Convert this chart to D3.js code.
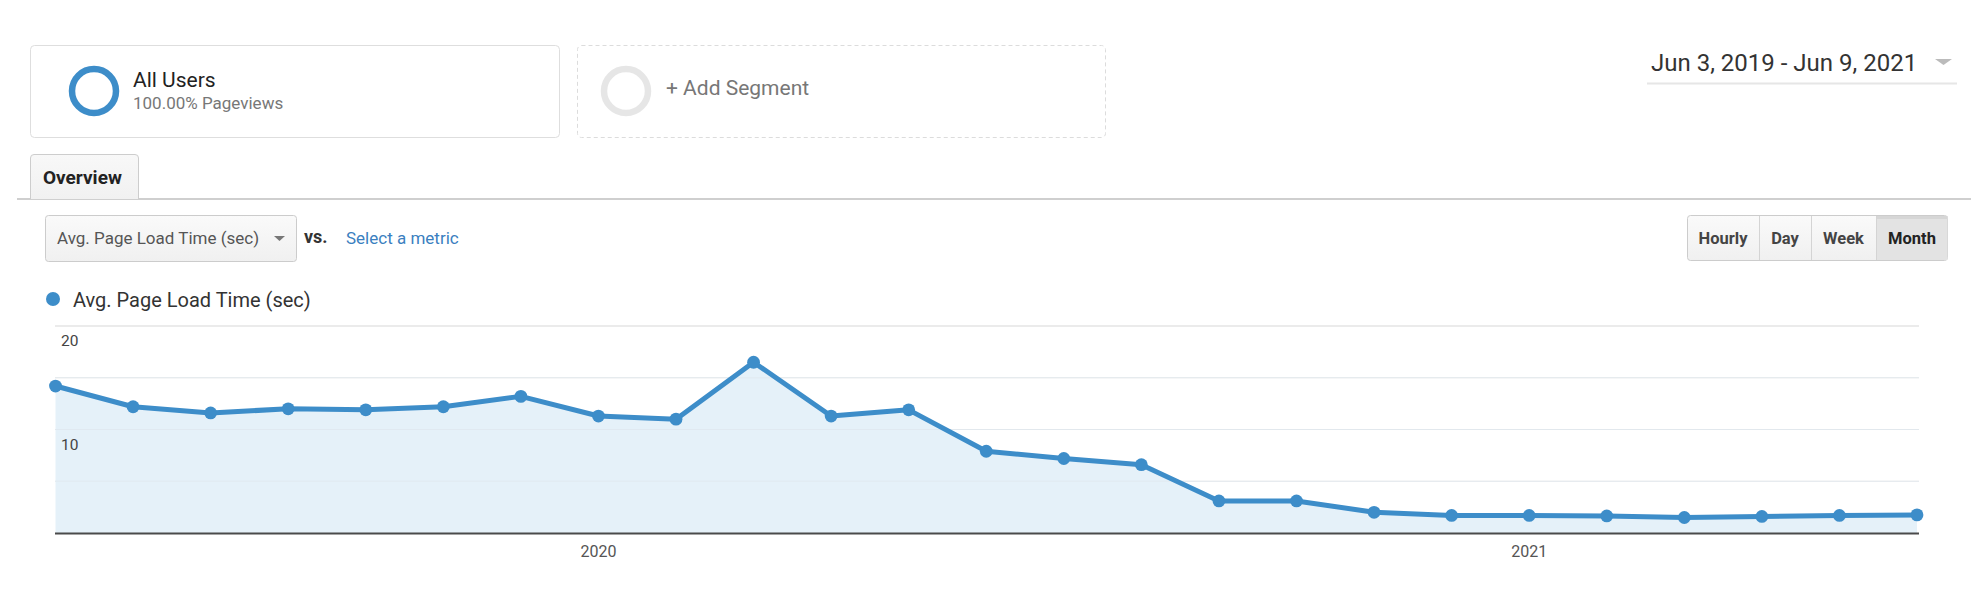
<!DOCTYPE html>
<html>
<head>
<meta charset="utf-8">
<script src="https://cdn.jsdelivr.net/npm/d3@7"></script>
<style>
  html, body { margin: 0; padding: 0; background: #fff; }
  svg { display: block; font-family: Roboto, "Open Sans", sans-serif; }
</style>
</head>
<body>
<svg id="chart" width="1984" height="604"></svg>
<script>
// ---- data ----
const months = ["2019-06","2019-07","2019-08","2019-09","2019-10","2019-11","2019-12",
  "2020-01","2020-02","2020-03","2020-04","2020-05","2020-06","2020-07","2020-08",
  "2020-09","2020-10","2020-11","2020-12","2021-01","2021-02","2021-03","2021-04",
  "2021-05","2021-06"];
const loadTime = [14.2, 12.2, 11.6, 12.0, 11.9, 12.2, 13.2, 11.3, 11.0, 16.5, 11.3, 11.9,
  7.9, 7.2, 6.6, 3.1, 3.1, 2.0, 1.7, 1.7, 1.65, 1.5, 1.6, 1.7, 1.75];
const gridValues = [0, 5, 10, 15, 20];
const yLabelValues = [10, 20];
const xLabelMonths = ["2020-01", "2021-01"];
const xLabelTexts = ["2020", "2021"];
const metricName = "Avg. Page Load Time (sec)";
const segmentName = "All Users";
const segmentSub = "100.00% Pageviews";
const dateRange = "Jun 3, 2019 - Jun 9, 2021";
const granularity = ["Hourly", "Day", "Week", "Month"];

const blue = "#3d8dc9";
const svg = d3.select("#chart");

// ---- header: segment boxes ----
const seg = svg.append("g");
seg.append("rect").attr("x", 30.5).attr("y", 45.5).attr("width", 529).attr("height", 92)
  .attr("rx", 4).attr("fill", "#fff").attr("stroke", "#dedede");
seg.append("circle").attr("cx", 94).attr("cy", 91).attr("r", 22)
  .attr("fill", "none").attr("stroke", blue).attr("stroke-width", 6.5);
seg.append("text").attr("x", 133).attr("y", 87).attr("font-size", 21).attr("fill", "#222").text(segmentName);
seg.append("text").attr("x", 133).attr("y", 109).attr("font-size", 17).attr("fill", "#777").text(segmentSub);

seg.append("rect").attr("x", 577.5).attr("y", 45.5).attr("width", 528).attr("height", 92)
  .attr("rx", 4).attr("fill", "#fff").attr("stroke", "#dcdcdc").attr("stroke-dasharray", "4,3");
seg.append("circle").attr("cx", 626).attr("cy", 91).attr("r", 22)
  .attr("fill", "none").attr("stroke", "#e6e6e6").attr("stroke-width", 6.5);
seg.append("text").attr("x", 666).attr("y", 95).attr("font-size", 21).attr("fill", "#777").text("+ Add Segment");

// date range
svg.append("text").attr("x", 1651).attr("y", 71).attr("font-size", 24).attr("fill", "#333").text(dateRange);
svg.append("path").attr("d", "M1935,59 L1952,59 L1943.5,65 Z").attr("fill", "#bbb");
svg.append("line").attr("x1", 1647).attr("x2", 1957).attr("y1", 83.5).attr("y2", 83.5)
  .attr("stroke", "#e6e6e6").attr("stroke-width", 2);

// tab + rule
svg.append("line").attr("x1", 17).attr("x2", 1971).attr("y1", 199).attr("y2", 199)
  .attr("stroke", "#cfcfcf").attr("stroke-width", 2);
const defs = svg.append("defs");
const tg = defs.append("linearGradient").attr("id", "tabg").attr("x1", 0).attr("x2", 0).attr("y1", 0).attr("y2", 1);
tg.append("stop").attr("offset", "0").attr("stop-color", "#f8f8f8");
tg.append("stop").attr("offset", "1").attr("stop-color", "#f1f1f1");
svg.append("path").attr("d", "M30.5,199 L30.5,158 Q30.5,154.5 34,154.5 L135,154.5 Q138.5,154.5 138.5,158 L138.5,199")
  .attr("fill", "url(#tabg)").attr("stroke", "#cdcdcd");
svg.append("text").attr("x", 43).attr("y", 184).attr("font-size", 19).attr("font-weight", 700)
  .attr("fill", "#222").text("Overview");

// metric dropdown
const bg = defs.append("linearGradient").attr("id", "btng").attr("x1", 0).attr("x2", 0).attr("y1", 0).attr("y2", 1);
bg.append("stop").attr("offset", "0").attr("stop-color", "#fafafa");
bg.append("stop").attr("offset", "1").attr("stop-color", "#f0f0f0");
svg.append("rect").attr("x", 45.5).attr("y", 215.5).attr("width", 251).attr("height", 46).attr("rx", 3)
  .attr("fill", "url(#btng)").attr("stroke", "#cccccc");
svg.append("text").attr("x", 57).attr("y", 244).attr("font-size", 17).attr("fill", "#555").text(metricName);
svg.append("path").attr("d", "M274,236 L285,236 L279.5,241 Z").attr("fill", "#777");
svg.append("text").attr("x", 304).attr("y", 243).attr("font-size", 18).attr("font-weight", 700)
  .attr("fill", "#333").text("vs.");
svg.append("text").attr("x", 346).attr("y", 244).attr("font-size", 17).attr("fill", "#3b7fc0").text("Select a metric");

// granularity buttons
const btnEdges = [1687, 1759, 1811, 1876, 1948];
const btns = svg.append("g");
btns.append("rect").attr("x", 1687.5).attr("y", 215.5).attr("width", 260).attr("height", 45).attr("rx", 3)
  .attr("fill", "url(#btng)").attr("stroke", "#cccccc");
btns.append("rect").attr("x", 1876.5).attr("y", 216).attr("width", 71).attr("height", 44)
  .attr("fill", "#e3e3e3");
btns.append("rect").attr("x", 1876.5).attr("y", 216).attr("width", 71).attr("height", 3)
  .attr("fill", "#d6d6d6");
[1, 2, 3].forEach(i => btns.append("line").attr("x1", btnEdges[i] + 0.5).attr("x2", btnEdges[i] + 0.5)
  .attr("y1", 216).attr("y2", 260).attr("stroke", "#d4d4d4"));
granularity.forEach((g, i) => btns.append("text")
  .attr("x", (btnEdges[i] + btnEdges[i + 1]) / 2).attr("y", 244).attr("text-anchor", "middle")
  .attr("font-size", 16.5).attr("font-weight", 700).attr("fill", i === 3 ? "#222" : "#444").text(g));

// legend
svg.append("circle").attr("cx", 53).attr("cy", 299).attr("r", 7).attr("fill", blue);
svg.append("text").attr("x", 73).attr("y", 306.5).attr("font-size", 20).attr("fill", "#333").text(metricName);

// ---- chart ----
const x = d3.scalePoint().domain(months).range([55.5, 1917]);
const y = d3.scaleLinear().domain([0, 20]).range([533, 326]);
const left = 55, right = 1919;

const plot = svg.append("g");
plot.selectAll("line.grid").data(gridValues.filter(v => v > 0)).join("line")
  .attr("class", "grid")
  .attr("x1", left).attr("x2", right)
  .attr("y1", d => y(d)).attr("y2", d => y(d))
  .attr("stroke", "#ebebeb").attr("stroke-width", d => d === 20 ? 2 : 1.2);

const data = months.map((m, i) => ({ m, v: loadTime[i] }));
plot.append("path").datum(data)
  .attr("d", d3.area().x(d => x(d.m)).y0(y(0)).y1(d => y(d.v)))
  .attr("fill", "#e5f1f9");

plot.selectAll("line.grid2").data(gridValues.filter(v => v > 0 && v < 20)).join("line")
  .attr("class", "grid2")
  .attr("x1", left).attr("x2", right)
  .attr("y1", d => y(d)).attr("y2", d => y(d))
  .attr("stroke", "#dfe7ee").attr("stroke-width", 1).attr("opacity", 0.7);

plot.append("path").datum(data)
  .attr("d", d3.line().x(d => x(d.m)).y(d => y(d.v)))
  .attr("fill", "none").attr("stroke", blue).attr("stroke-width", 5)
  .attr("stroke-linejoin", "round");
plot.selectAll("circle.pt").data(data).join("circle")
  .attr("class", "pt")
  .attr("cx", d => x(d.m)).attr("cy", d => y(d.v)).attr("r", 6.4).attr("fill", blue);

// y labels
plot.selectAll("text.yl").data(yLabelValues).join("text")
  .attr("class", "yl").attr("x", 61).attr("y", d => y(d) + 20)
  .attr("font-size", 15.5).attr("fill", "#444").text(d => d);

// baseline
plot.append("line").attr("x1", left).attr("x2", right).attr("y1", 533.5).attr("y2", 533.5)
  .attr("stroke", "#4a4a4a").attr("stroke-width", 2.2);

// x labels
plot.selectAll("text.xl").data(xLabelMonths).join("text")
  .attr("class", "xl").attr("x", d => x(d)).attr("y", 557).attr("text-anchor", "middle")
  .attr("font-size", 16).attr("fill", "#555").text((d, i) => xLabelTexts[i]);
</script>
</body>
</html>
